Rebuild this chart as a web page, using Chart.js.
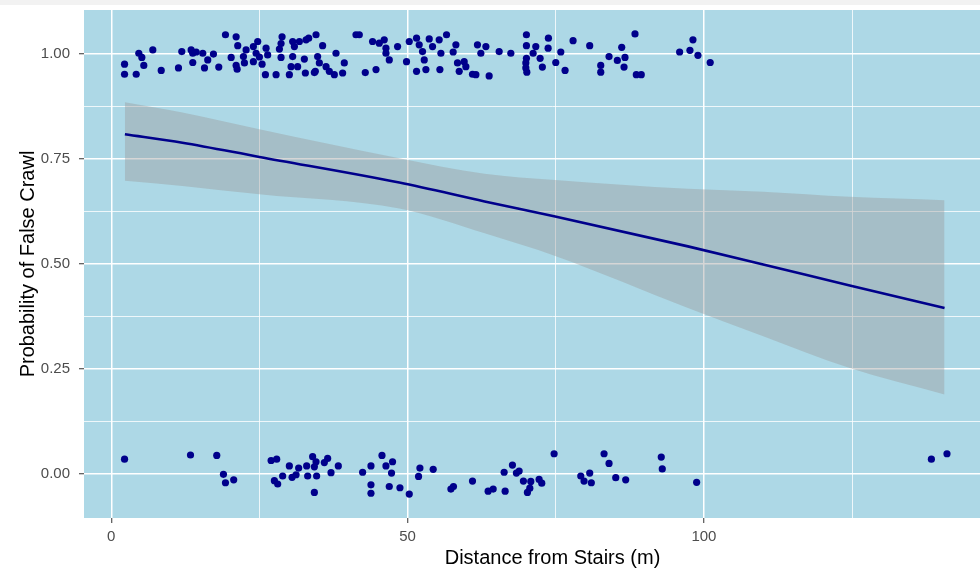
<!DOCTYPE html>
<html lang="en">
<head>
    <meta charset="UTF-8">
    <title>False Crawl vs Distance from Stairs</title>
    <script src="https://cdn.jsdelivr.net/npm/chart.js@4.4.1/dist/chart.umd.min.js"></script>
    <style>
        * {
            margin: 0;
            padding: 0;
            box-sizing: border-box;
        }

        body {
            width: 980px;
            height: 574px;
            overflow: hidden;
            background: #ffffff;
        }

        .top-strip {
            position: absolute;
            left: 0;
            top: 0;
            width: 980px;
            height: 5px;
            background: #f2f2f2;
            z-index: 2;
        }

        /* the panel runs on past the right edge of the window */
        .chart-box {
            position: absolute;
            left: 0;
            top: 0;
            width: 1025px;
            height: 574px;
        }
    </style>
</head>
<body>
    <div class="top-strip"></div>
    <div class="chart-box">
        <canvas id="crawlChart" width="1025" height="574"></canvas>
    </div>

    <script>
        // Nests that were a false crawl (1) - jittered around 1
        const falseX = [2.24, 2.24, 4.21, 4.65, 5.16, 5.49, 7.01, 8.43, 11.34, 11.9, 13.48, 13.75, 14.33, 13.75,
            15.44, 15.73, 16.28, 17.24, 18.14, 19.27, 21.07, 21.34, 20.23, 21.07, 21.24, 22.3, 22.75, 22.47,
            23.98, 24.71, 24.44, 23.98, 25.0, 25.45, 26.01, 26.12, 26.39, 27.81, 28.37, 28.82, 28.65, 28.65,
            30.05, 30.34, 30.61, 30.61, 30.9, 31.45, 31.74, 32.58, 32.75, 32.87, 33.31, 34.27, 34.55, 35.66,
            34.82, 35.11, 34.43, 36.24, 36.79, 37.64, 37.92, 39.04, 39.32, 41.29, 41.85, 42.86, 44.09, 44.67,
            45.22, 46.06, 46.35, 46.35, 46.91, 48.31, 49.82, 50.28, 51.51, 51.96, 52.52, 52.81, 51.51, 53.09,
            53.65, 54.21, 55.33, 55.62, 55.45, 56.57, 57.69, 58.15, 58.42, 58.71, 59.55, 59.83, 60.95, 61.52,
            61.79, 62.36, 63.21, 63.76, 65.45, 67.42, 70.05, 70.05, 70.05, 69.95, 69.95, 70.12, 71.18, 71.63,
            72.36, 72.74, 73.76, 73.71, 75.0, 75.85, 76.57, 77.92, 80.73, 82.59, 82.59, 83.99, 85.39, 86.13,
            86.68, 86.52, 88.37, 88.59, 89.43, 95.9, 97.64, 98.15, 98.99, 101.06];
        const falseY = [0.976, 0.952, 0.952, 1.002, 0.992, 0.973, 1.010, 0.961, 0.967, 1.006, 1.010, 1.002, 1.005, 0.980,
            1.002, 0.967, 0.986, 1.000, 0.969, 1.046, 1.041, 1.020, 0.992, 0.973, 0.964, 0.994, 1.010, 0.979,
            1.018, 1.030, 1.002, 0.982, 0.993, 0.976, 0.951, 1.014, 0.998, 0.951, 1.012, 1.041, 1.025, 0.992,
            0.951, 0.970, 0.994, 1.030, 1.018, 0.970, 1.030, 0.988, 0.955, 1.034, 1.038, 0.956, 1.046, 1.020,
            0.994, 0.979, 0.959, 0.970, 0.959, 0.951, 1.002, 0.955, 0.979, 1.046, 1.046, 0.956, 1.030, 0.963,
            1.026, 1.034, 1.014, 1.002, 0.986, 1.018, 0.982, 1.030, 1.038, 1.022, 1.006, 0.986, 0.959, 0.963,
            1.036, 1.018, 1.034, 1.002, 0.963, 1.046, 1.005, 1.022, 0.979, 0.959, 0.982, 0.970, 0.952, 0.951,
            1.022, 1.002, 1.018, 0.948, 1.006, 1.002, 1.046, 1.020, 0.990, 0.979, 0.967, 0.957, 1.002, 1.018,
            0.990, 0.969, 1.038, 1.014, 0.980, 1.005, 0.961, 1.032, 1.020, 0.973, 0.957, 0.994, 0.985, 1.016,
            0.992, 0.969, 1.048, 0.951, 0.951, 1.005, 1.009, 1.034, 0.997, 0.980];

        // Nests that were not a false crawl (0) - jittered around 0
        const nestX = [2.24, 13.37, 17.8, 18.93, 19.27, 20.66, 26.97, 27.91, 27.52, 28.08, 28.92, 30.05, 30.51, 31.18,
            31.62, 32.97, 33.14, 33.98, 34.27, 34.27, 34.65, 34.55, 35.95, 36.51, 37.08, 38.31, 42.41, 43.82,
            43.82, 43.82, 45.68, 46.35, 47.46, 47.29, 46.91, 48.71, 50.28, 52.08, 51.85, 54.32, 57.31, 57.74,
            60.95, 63.59, 64.44, 66.46, 66.29, 67.69, 68.36, 68.82, 69.54, 70.22, 70.79, 70.62, 72.19, 72.64,
            74.72, 79.22, 79.77, 80.73, 81.0, 83.15, 83.99, 85.12, 86.8, 92.8, 92.97, 98.77, 138.38, 141.01];
        const nestY = [0.035, 0.045, 0.044, -0.001, -0.021, -0.014, 0.032, 0.035, -0.016, -0.024, -0.005, 0.019, -0.008, -0.002,
            0.014, 0.019, -0.005, 0.041, 0.017, -0.044, -0.005, 0.029, 0.027, 0.037, 0.003, 0.019, 0.004, 0.019,
            -0.026, -0.046, 0.044, 0.019, 0.029, 0.002, -0.030, -0.033, -0.048, 0.014, -0.006, 0.011, -0.036, -0.030,
            -0.017, -0.041, -0.036, -0.041, 0.004, 0.021, 0.002, 0.007, -0.017, -0.044, -0.018, -0.034, -0.013, -0.022,
            0.048, -0.005, -0.017, 0.002, -0.021, 0.048, 0.025, -0.009, -0.014, 0.040, 0.012, -0.020, 0.035, 0.048];

        // Fitted logistic curve and its confidence band
        const fitX = [2.3, 12, 25, 48.6, 63, 74.9, 97.3, 110, 124.6, 140.6];
        const fitY = [0.809, 0.789, 0.755, 0.694, 0.649, 0.613, 0.542, 0.499, 0.449, 0.395];
        const ciLow = [0.698, 0.686, 0.666, 0.632, 0.573, 0.519, 0.395, 0.328, 0.252, 0.189];
        const ciHigh = [0.885, 0.861, 0.821, 0.752, 0.715, 0.700, 0.679, 0.672, 0.660, 0.652];

        // Axis breaks
        const xMajor = [0, 50, 100];
        const xMinor = [25, 75, 125];
        const yMajor = [0, 0.25, 0.5, 0.75, 1];
        const yMinor = [0.125, 0.375, 0.625, 0.875];

        const pairs = (xs, ys) => xs.map((x, i) => ({ x: x, y: ys[i] }));
        const isMajor = (list, v) => list.some(m => Math.abs(m - v) < 1e-9);
        const FONT = 'Liberation Sans, Arial, sans-serif';

        const panelBackground = {
            id: 'panelBackground',
            beforeDraw(chart) {
                const { ctx, chartArea } = chart;
                ctx.save();
                ctx.fillStyle = '#add8e6';
                ctx.fillRect(chartArea.left, chartArea.top, chartArea.right - chartArea.left, chartArea.bottom - chartArea.top);
                ctx.restore();
            }
        };

        function gridFor(major) {
            return {
                color: '#ffffff',
                lineWidth: c => (c.tick && isMajor(major, c.tick.value)) ? 1.5 : 0.8,
                tickColor: c => (c.tick && isMajor(major, c.tick.value)) ? '#333333' : 'rgba(0,0,0,0)',
                tickWidth: 1,
                tickLength: 5,
                drawTicks: true
            };
        }

        new Chart(document.getElementById('crawlChart'), {
            type: 'scatter',
            data: {
                datasets: [{
                    label: 'Fit',
                    type: 'line',
                    data: pairs(fitX, fitY),
                    borderColor: '#00008b',
                    borderWidth: 2.6,
                    pointRadius: 0,
                    cubicInterpolationMode: 'monotone',
                    fill: false,
                    order: 0
                }, {
                    label: 'False crawl',
                    data: pairs(falseX, falseY),
                    backgroundColor: '#00008b',
                    borderColor: '#00008b',
                    borderWidth: 0,
                    pointRadius: 3.6,
                    order: 1
                }, {
                    label: 'Nest',
                    data: pairs(nestX, nestY),
                    backgroundColor: '#00008b',
                    borderColor: '#00008b',
                    borderWidth: 0,
                    pointRadius: 3.6,
                    order: 1
                }, {
                    label: 'Upper',
                    type: 'line',
                    data: pairs(fitX, ciHigh),
                    borderWidth: 0,
                    borderColor: 'rgba(0,0,0,0)',
                    backgroundColor: 'rgba(153,153,153,0.4)',
                    pointRadius: 0,
                    cubicInterpolationMode: 'monotone',
                    fill: '+1',
                    order: 2
                }, {
                    label: 'Lower',
                    type: 'line',
                    data: pairs(fitX, ciLow),
                    borderWidth: 0,
                    borderColor: 'rgba(0,0,0,0)',
                    pointRadius: 0,
                    cubicInterpolationMode: 'monotone',
                    fill: false,
                    order: 3
                }]
            },
            options: {
                responsive: false,
                devicePixelRatio: 1,
                animation: false,
                layout: {
                    padding: { top: 10, left: 0, right: 3, bottom: 0 }
                },
                plugins: {
                    legend: { display: false },
                    tooltip: { enabled: false }
                },
                scales: {
                    x: {
                        type: 'linear',
                        min: -4.6,
                        max: 153.5,
                        afterBuildTicks: s => { s.ticks = xMajor.concat(xMinor).sort((a, b) => a - b).map(v => ({ value: v })); },
                        afterFit: s => { s.height = 56; s.paddingLeft = 0; s.paddingRight = 0; },
                        border: { display: false },
                        grid: gridFor(xMajor),
                        ticks: {
                            autoSkip: false,
                            maxRotation: 0,
                            padding: 5,
                            color: '#4d4d4d',
                            font: { family: FONT, size: 15 },
                            callback: v => isMajor(xMajor, v) ? String(v) : ''
                        },
                        title: {
                            display: true,
                            text: 'Distance from Stairs (m)',
                            color: '#000000',
                            font: { family: FONT, size: 20 },
                            padding: { top: 0, bottom: 4 }
                        }
                    },
                    y: {
                        type: 'linear',
                        min: -0.105,
                        max: 1.105,
                        afterBuildTicks: s => { s.ticks = yMajor.concat(yMinor).sort((a, b) => a - b).map(v => ({ value: v })); },
                        afterFit: s => { s.width = 84; s.paddingTop = 0; s.paddingBottom = 0; },
                        border: { display: false },
                        grid: gridFor(yMajor),
                        ticks: {
                            autoSkip: false,
                            padding: 9,
                            color: '#4d4d4d',
                            font: { family: FONT, size: 15 },
                            callback: v => isMajor(yMajor, v) ? v.toFixed(2) : ''
                        },
                        title: {
                            display: true,
                            text: 'Probability of False Crawl',
                            color: '#000000',
                            font: { family: FONT, size: 20 },
                            padding: { top: 16, bottom: 0 }
                        }
                    }
                }
            },
            plugins: [panelBackground]
        });
    </script>
</body>
</html>
